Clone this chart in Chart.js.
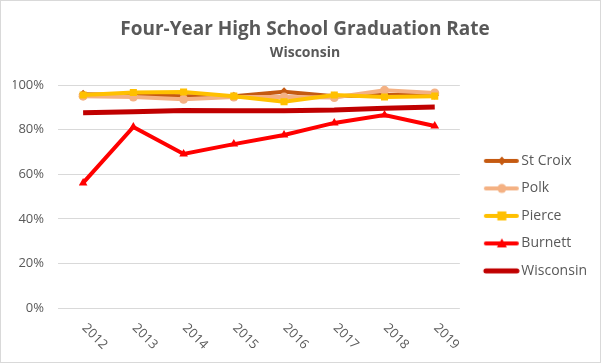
<!DOCTYPE html>
<html>
<head>
<meta charset="utf-8">
<script src="https://cdn.jsdelivr.net/npm/chart.js@4"></script>
<style>
  html, body { margin: 0; padding: 0; background: #fff; }
  #wrap { position: relative; width: 601px; height: 363px; box-sizing: border-box; border: 1px solid #d9d9d9; }
  #chart { position: absolute; left: 0; top: 0; }
</style>
</head>
<body>
<div id="wrap"><canvas id="chart" width="599" height="361"></canvas></div>
<script>
// ==================== DATA ====================
const YEARS = ['2012', '2013', '2014', '2015', '2016', '2017', '2018', '2019'];
const ST_CROIX  = [95.8, 95.5, 95.0, 95.0, 97.0, 95.0, 95.5, 95.5];
const POLK      = [95.0, 94.6, 93.6, 94.6, 94.6, 94.4, 97.6, 96.4];
const PIERCE    = [95.5, 96.6, 96.9, 95.0, 92.5, 95.5, 94.6, 95.0];
const BURNETT   = [56.1, 81.2, 69.1, 73.5, 77.6, 83.0, 86.5, 81.6];
const WISCONSIN = [87.6, 88.0, 88.6, 88.4, 88.5, 88.8, 89.6, 90.1];
const Y_TICKS   = [0, 20, 40, 60, 80, 100];

const FONT = "'Open Sans', 'Liberation Sans', sans-serif";
const GREY = '#595959';

// legend swatch: line with the series marker in the middle
// (image is wider than the legend box so the line sits close to the text)
function swatch(color, marker, lw) {
  const c = document.createElement('canvas');
  c.width = 52; c.height = 12;
  const g = c.getContext('2d');
  g.strokeStyle = color; g.fillStyle = color;
  g.lineWidth = lw; g.lineCap = 'round';
  g.beginPath(); g.moveTo(18, 6); g.lineTo(49, 6); g.stroke();
  const cx = 34;
  g.beginPath();
  if (marker === 'rectRot') { g.moveTo(cx, 1.5); g.lineTo(cx + 4, 6); g.lineTo(cx, 10.5); g.lineTo(cx - 4, 6); g.closePath(); g.fill(); }
  else if (marker === 'circle') { g.arc(cx, 6, 4.5, 0, Math.PI * 2); g.fill(); }
  else if (marker === 'rect') { g.fillRect(cx - 4.5, 1.5, 9, 9); }
  else if (marker === 'triangle') { g.moveTo(cx, 1); g.lineTo(cx + 5, 10); g.lineTo(cx - 5, 10); g.closePath(); g.fill(); }
  return c;
}

const SERIES = [
  { label: 'St Croix',  data: ST_CROIX,  color: '#C55A11', marker: 'rectRot',  lw: 4, r: 4.5, order: 5 },
  { label: 'Polk',      data: POLK,      color: '#F4B183', marker: 'circle',   lw: 4, r: 4.5, order: 4 },
  { label: 'Pierce',    data: PIERCE,    color: '#FFC000', marker: 'rect',     lw: 4, r: 5,   order: 3 },
  { label: 'Burnett',   data: BURNETT,   color: '#FF0000', marker: 'triangle', lw: 4, r: 5,   order: 2 },
  { label: 'Wisconsin', data: WISCONSIN, color: '#C00000', marker: false,      lw: 5, r: 0,   order: 1 }
];

// rotated year labels (clockwise, like the original)
const yearLabels = {
  id: 'yearLabels',
  afterDraw(chart) {
    const ctx = chart.ctx;
    const x = chart.scales.x;
    const top = chart.chartArea.bottom;
    ctx.save();
    ctx.font = '13px ' + FONT;
    ctx.fillStyle = GREY;
    ctx.textAlign = 'left';
    ctx.textBaseline = 'middle';
    YEARS.forEach((yr, i) => {
      ctx.save();
      ctx.translate(x.getPixelForValue(i) + 1, top + 18);
      ctx.rotate(Math.PI / 4);
      ctx.fillText(yr, 0, 0);
      ctx.restore();
    });
    ctx.restore();
  }
};

new Chart(document.getElementById('chart'), {
  type: 'line',
  data: {
    labels: YEARS,
    datasets: SERIES.map(s => ({
      label: s.label,
      data: s.data,
      borderColor: s.color,
      backgroundColor: s.color,
      borderWidth: s.lw,
      pointStyle: s.marker,
      pointRadius: s.r,
      pointBorderWidth: 0,
      pointBackgroundColor: s.color,
      tension: 0,
      order: s.order,
      swatch: swatch(s.color, s.marker, s.lw)
    }))
  },
  options: {
    responsive: false,
    animation: false,
    layout: { padding: { left: 12, right: 3, top: 0, bottom: 46 } },
    scales: {
      x: {
        offset: true,
        grid: { display: false },
        border: { display: false },
        ticks: { display: false }
      },
      y: {
        min: 0, max: 100,
        afterBuildTicks: axis => { axis.ticks = Y_TICKS.map(v => ({ value: v })); },
        afterFit: axis => { axis.width = 45; },
        grid: { color: '#d9d9d9', lineWidth: 1, drawTicks: false },
        border: { display: false },
        ticks: { color: GREY, font: { family: FONT, size: 13 }, padding: 14, callback: v => v + '%' }
      }
    },
    plugins: {
      title: {
        display: true,
        text: 'Four-Year High School Graduation Rate',
        color: GREY,
        font: { family: FONT, size: 19, weight: 'bold' },
        padding: { top: 17, bottom: 0 }
      },
      subtitle: {
        display: true,
        text: 'Wisconsin',
        color: GREY,
        font: { family: FONT, size: 14, weight: 'bold' },
        padding: { top: 4, bottom: 23.4 }
      },
      legend: {
        position: 'right',
        align: 'start',
        title: { display: true, text: '', font: { size: 10 }, padding: 63.7 },
        labels: {
          color: GREY,
          font: { family: FONT, size: 14 },
          usePointStyle: true,
          pointStyleWidth: 41,
          padding: 13.5,
          generateLabels: chart => chart.data.datasets.map((d, i) => ({
            text: d.label,
            pointStyle: d.swatch,
            fillStyle: d.borderColor,
            strokeStyle: d.borderColor,
            lineWidth: 0,
            fontColor: GREY,
            hidden: false,
            datasetIndex: i
          }))
        }
      },
      tooltip: { enabled: false }
    }
  },
  plugins: [yearLabels]
});
</script>
</body>
</html>
